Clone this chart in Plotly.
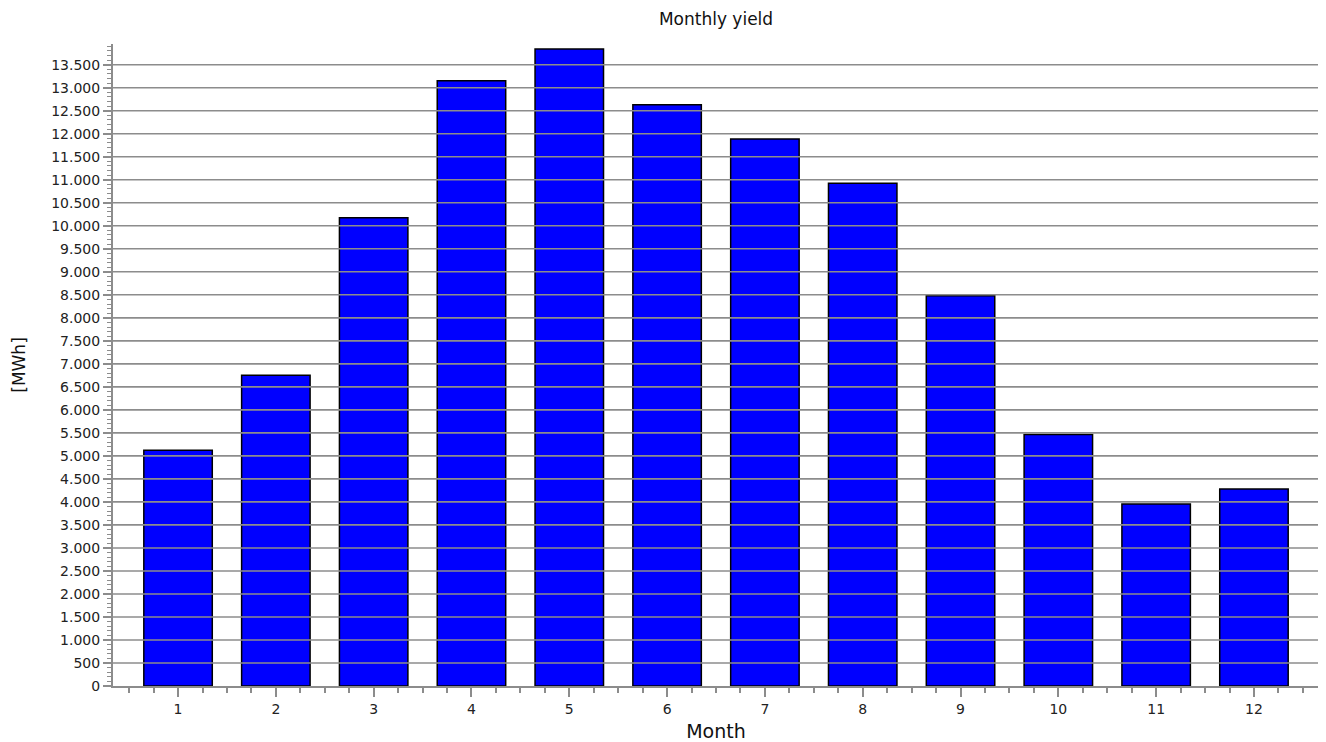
import plotly.graph_objects as go

months = list(range(1, 13))
yield_mwh = [5124, 6754, 10176, 13153, 13842, 12630, 11885, 10926, 8478, 5465, 3957, 4283]
title_text = "Monthly yield"
x_title = "Month"
y_title = "[MWh]"
y_max = 13950
grid_step = 500

grid_color = "#8c8c8c"
font_family = "DejaVu Sans, Verdana, sans-serif"

fig = go.Figure()
fig.add_trace(go.Bar(
    x=months, y=yield_mwh, width=0.7,
    marker=dict(color="#0000ff", line=dict(color="#000000", width=1.5)),
    hoverinfo="x+y",
))

grid_vals = list(range(grid_step, int(y_max) + 1, grid_step))
for gv in grid_vals:
    fig.add_shape(type="line", xref="paper", yref="y", x0=0, x1=1, y0=gv, y1=gv,
                  line=dict(color=grid_color, width=1.6), layer="above")

fig.update_layout(
    width=1326, height=742,
    paper_bgcolor="white", plot_bgcolor="white",
    margin=dict(l=105, r=15, t=36, b=64, autoexpand=False),
    separators=",.",
    showlegend=False,
    title=dict(text=title_text, x=0.5, xanchor="center", xref="paper",
               y=1 - 11 / 742, yanchor="middle",
               font=dict(family=font_family, size=17, color="#111111")),
    font=dict(family=font_family, size=14, color="#222222"),
)
fig.update_xaxes(
    range=[0.335, 12.665], tickmode="array", tickvals=months, ticktext=[str(m) for m in months],
    automargin=False,
    showgrid=False, zeroline=False, showline=True, linecolor=grid_color, linewidth=2,
    ticks="outside", ticklen=9, tickwidth=1.5, tickcolor=grid_color,
    tickfont=dict(size=14, color="#222222"),
    minor=dict(dtick=0.25, tick0=0, ticks="outside", ticklen=5, tickwidth=1.5, tickcolor=grid_color, showgrid=False),
    title=dict(text=x_title, font=dict(size=19, color="#111111"), standoff=9),
)
fig.update_yaxes(
    range=[0, y_max], dtick=grid_step, tick0=0, tickformat=",d",
    automargin=False,
    showgrid=False, zeroline=False, showline=True, linecolor=grid_color, linewidth=2,
    ticks="outside", ticklen=8, tickwidth=1.5, tickcolor=grid_color,
    tickfont=dict(size=14, color="#222222"),
    minor=dict(dtick=100, tick0=0, ticks="outside", ticklen=4, tickwidth=1.2, tickcolor=grid_color, showgrid=False),
    title=dict(text=y_title, font=dict(size=17, color="#111111"), standoff=21),
)

fig.write_html("out.html")
